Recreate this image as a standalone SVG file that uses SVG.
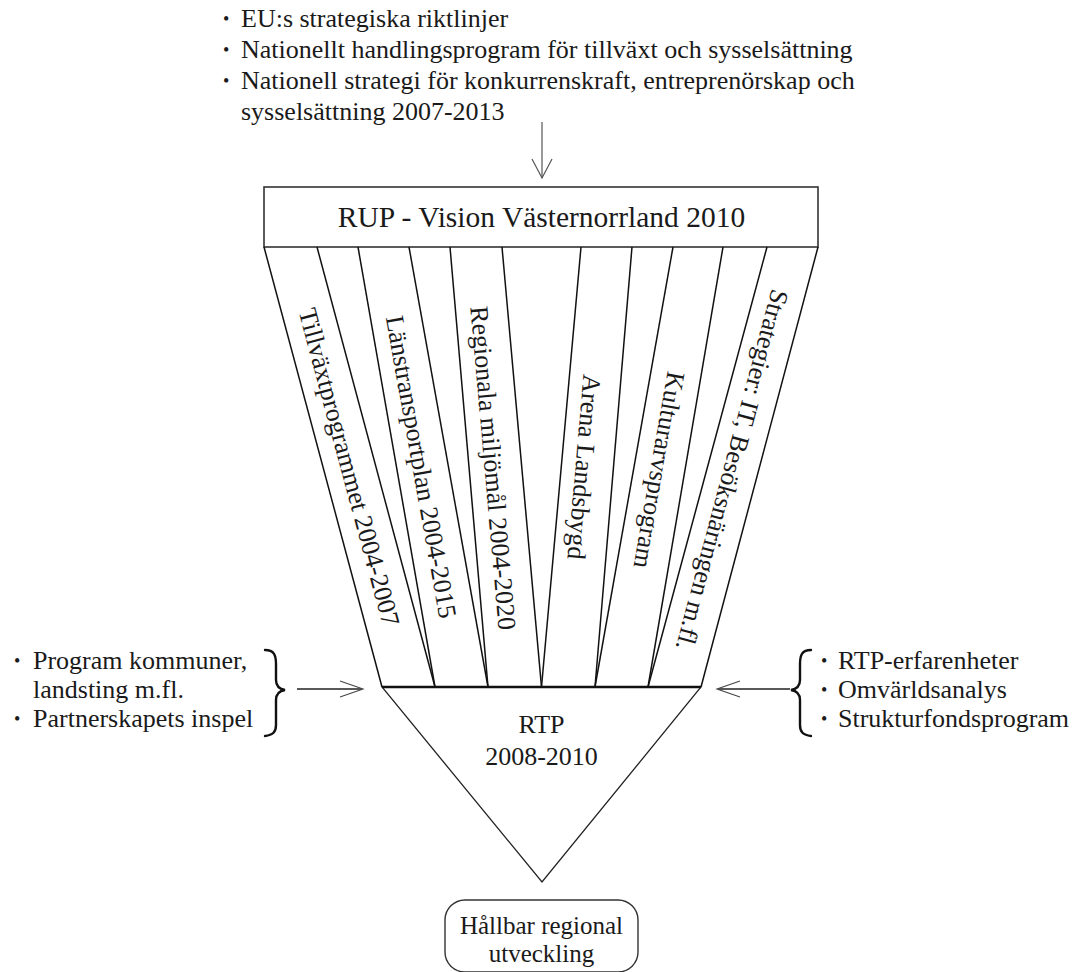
<svg xmlns="http://www.w3.org/2000/svg" width="1077" height="972" viewBox="0 0 1077 972">
<style>
text{font-family:"Liberation Serif","Times New Roman",serif;fill:#1a1a1a;font-size:26px}
.mid{text-anchor:middle}
.lbl{text-anchor:middle;dominant-baseline:central}
.strip{stroke:#111;stroke-width:1.5;fill:none}
.thin{stroke:#555;stroke-width:1.2;fill:none}
.br{stroke:#111;stroke-width:2.4;fill:none;stroke-linecap:round}
.bul{font-size:18px}
</style>
<rect width="1077" height="972" fill="#fff"/>

<g id="inputs-top">
<text class="bul" x="223" y="25">•</text>
<text x="241" y="27">EU:s strategiska riktlinjer</text>
<text class="bul" x="223" y="56">•</text>
<text x="241" y="58">Nationellt handlingsprogram för tillväxt och sysselsättning</text>
<text class="bul" x="223" y="87">•</text>
<text x="241" y="89">Nationell strategi för konkurrenskraft, entreprenörskap och</text>
<text x="241" y="120">sysselsättning 2007-2013</text>
</g>

<g id="inputs-left">
<text class="bul" x="14" y="667">•</text>
<text x="33" y="669">Program kommuner,</text>
<text x="33" y="698">landsting m.fl.</text>
<text class="bul" x="14" y="725">•</text>
<text x="33" y="727">Partnerskapets inspel</text>
</g>

<g id="inputs-right">
<text class="bul" x="821" y="667">•</text>
<text x="838" y="669">RTP-erfarenheter</text>
<text class="bul" x="821" y="696">•</text>
<text x="838" y="698">Omvärldsanalys</text>
<text class="bul" x="821" y="725">•</text>
<text x="838" y="727">Strukturfondsprogram</text>
</g>

<g id="rup">
<rect x="264" y="187" width="554" height="60" fill="#fff" stroke="#333" stroke-width="1.6"/>
<text class="mid" x="541.5" y="227" style="font-size:29.5px">RUP - Vision Västernorrland 2010</text>
</g>

<g id="strip1">
<line class="strip" x1="264" y1="247" x2="382" y2="687"/>
<line class="strip" x1="317" y1="247" x2="435" y2="687"/>
<text class="lbl" transform="translate(349,467) rotate(75)">Tillväxtprogrammet 2004-2007</text>
</g>
<g id="strip2">
<line class="strip" x1="358" y1="247" x2="435" y2="687"/>
<line class="strip" x1="409" y1="247" x2="488" y2="687"/>
<text class="lbl" transform="translate(421,467) rotate(79.9)">Länstransportplan 2004-2015</text>
</g>
<g id="strip3">
<line class="strip" x1="450" y1="247" x2="488" y2="687"/>
<line class="strip" x1="502" y1="247" x2="541.5" y2="687"/>
<text class="lbl" transform="translate(493,468) rotate(85)">Regionala miljömål 2004-2020</text>
</g>
<g id="strip4">
<line class="strip" x1="581" y1="247" x2="541.5" y2="687"/>
<line class="strip" x1="632" y1="247" x2="595" y2="687"/>
<text class="lbl" transform="translate(584,467) rotate(95)">Arena Landsbygd</text>
</g>
<g id="strip5">
<line class="strip" x1="673" y1="247" x2="595" y2="687"/>
<line class="strip" x1="723" y1="247" x2="648" y2="687"/>
<text class="lbl" transform="translate(659,470) rotate(99.9)">Kulturarvsprogram</text>
</g>
<g id="strip6">
<line class="strip" x1="767" y1="247" x2="648" y2="687"/>
<line class="strip" x1="818" y1="247" x2="701" y2="687"/>
<text class="lbl" transform="translate(732,470) rotate(105)">Strategier: IT, Besöksnäringen m.fl.</text>
</g>

<g id="rtp">
<polygon points="382,687 701,687 542,882" fill="none" stroke="#222" stroke-width="1.3"/>
<line x1="382" y1="687" x2="701" y2="687" stroke="#111" stroke-width="2.6"/>
<text class="mid" x="541.5" y="733">RTP</text>
<text class="mid" x="541.5" y="765">2008-2010</text>
</g>

<g id="goal">
<rect x="445" y="900" width="193" height="72" rx="20" ry="20" fill="#fff" stroke="#333" stroke-width="1.4"/>
<text class="mid" x="541.5" y="934" style="font-size:25px">Hållbar regional</text>
<text class="mid" x="541.5" y="962" style="font-size:25px">utveckling</text>
</g>

<g id="connectors">
<line class="thin" x1="542" y1="122" x2="542" y2="178"/>
<polyline class="thin" points="532,159 542,178 552,159"/>
<path class="br" d="M265,650 C274,650 276,655 276,664 L276,680 C276,686 279,689 285,690 C279,691 276,694 276,700 L276,725 C276,732 273,735 265,736"/>
<line x1="297" y1="689" x2="362" y2="689" stroke="#222" stroke-width="1.3"/>
<polyline points="340,681 363,689 340,697" fill="none" stroke="#444" stroke-width="1.1"/>
<path class="br" d="M811,650 C802,650 800,655 800,664 L800,680 C800,686 797,689 791,690 C797,691 800,694 800,700 L800,725 C800,732 803,735 811,736"/>
<line x1="718" y1="689" x2="790" y2="689" stroke="#222" stroke-width="1.3"/>
<polyline points="740,681 717,689 740,697" fill="none" stroke="#444" stroke-width="1.1"/>
</g>
</svg>
